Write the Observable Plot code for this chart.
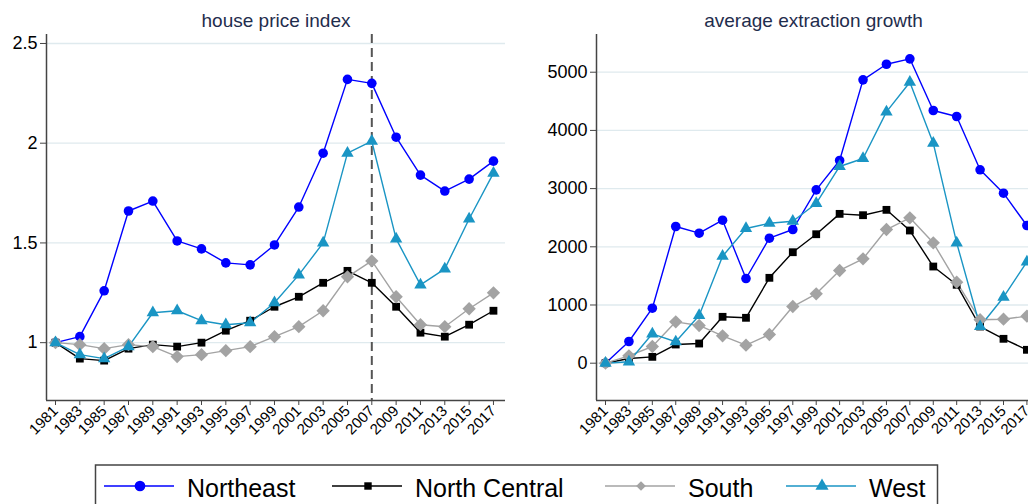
<!DOCTYPE html>
<html><head><meta charset="utf-8">
<script src="https://cdn.jsdelivr.net/npm/d3@7"></script>
<script src="https://cdn.jsdelivr.net/npm/@observablehq/plot@0.6"></script>
<style>
html,body{margin:0;padding:0;background:#fff;overflow:hidden;width:1028px;height:504px;}
#wrap{position:relative;width:1028px;height:504px;overflow:hidden;font-family:"Liberation Sans",Arial,sans-serif;}
.panel{position:absolute;top:0;}
</style></head><body><div id="wrap"></div>
<script>
const years = [1981,1983,1985,1987,1989,1991,1993,1995,1997,1999,2001,2003,2005,2007,2009,2011,2013,2015,2017];
const regions = ["Northeast","North Central","South","West"];
const colors = ["#0000ff","#000000","#a3a3a3","#1a95c4"];
const symbols = ["circle","square","diamond2","triangle"];

const hpiNortheast    = [1.00,1.03,1.26,1.66,1.71,1.51,1.47,1.40,1.39,1.49,1.68,1.95,2.32,2.30,2.03,1.84,1.76,1.82,1.91];
const hpiNorthCentral = [1.00,0.92,0.91,0.97,0.99,0.98,1.00,1.06,1.11,1.18,1.23,1.30,1.36,1.30,1.18,1.05,1.03,1.09,1.16];
const hpiSouth        = [1.00,0.99,0.97,0.99,0.98,0.93,0.94,0.96,0.98,1.03,1.08,1.16,1.33,1.41,1.23,1.09,1.08,1.17,1.25];
const hpiWest         = [1.00,0.94,0.92,0.98,1.15,1.16,1.11,1.09,1.10,1.20,1.34,1.50,1.95,2.01,1.52,1.29,1.37,1.62,1.85];

const extNortheast    = [0,373,945,2349,2234,2457,1455,2148,2297,2979,3483,4869,5137,5230,4342,4239,3323,2921,2366];
const extNorthCentral = [0,80,109,321,338,797,780,1467,1907,2216,2566,2543,2635,2280,1661,1347,630,419,230];
const extSouth        = [0,127,287,711,648,470,309,493,974,1192,1593,1794,2297,2498,2068,1392,746,756,808];
const extWest         = [0,24,505,368,820,1838,2314,2405,2440,2745,3380,3517,4319,4828,3780,2068,630,1134,1742];

const hpiTicks = [1,1.5,2,2.5];
const extTicks = [0,1000,2000,3000,4000,5000];
const crisisYear = 2007;

function rows(series){
  const out=[];
  series.forEach((vals,i)=>vals.forEach((v,j)=>out.push({year:years[j],region:regions[i],value:v})));
  return out;
}
const hpiData = rows([hpiNortheast,hpiNorthCentral,hpiSouth,hpiWest]);
const extData = rows([extNortheast,extNorthCentral,extSouth,extWest]);

const dotR = {"Northeast":4.8,"North Central":4.4,"South":6,"West":4.6};

function panel({data,title,yDomain,yTicks,xDomain,width,marginLeft,marginRight,rule,titleDx}){
  const marks = [
    Plot.gridY({ticks:yTicks, stroke:"#dfeaee", strokeOpacity:1, strokeWidth:1.3}),
    Plot.axisY({ticks:yTicks, tickFormat:d3.format("~g"), fontSize:18, tickSize:6, tickPadding:3, stroke:"#444", label:null}),
    Plot.axisX({ticks:years, tickFormat:d=>String(d), tickRotate:-45, fontSize:15, tickSize:5, tickPadding:3, stroke:"#444", label:null}),
    Plot.ruleX([xDomain[0]], {stroke:"#444", strokeWidth:1.5}),
    Plot.ruleY([yDomain[0]], {stroke:"#444", strokeWidth:1.5}),
  ];
  if (rule) marks.push(Plot.ruleX([rule], {stroke:"#555", strokeWidth:2, strokeDasharray:"9,5"}));
  regions.forEach((r,i)=>{
    const d = data.filter(x=>x.region===r);
    marks.push(Plot.line(d,{x:"year",y:"value",stroke:colors[i],strokeWidth:1.4}));
  });
  regions.forEach((r,i)=>{
    const d = data.filter(x=>x.region===r);
    marks.push(Plot.dot(d,{x:"year",y:"value",symbol:()=>symbols[i],fill:colors[i],stroke:"none",r:dotR[r]}));
  });
  marks.push(Plot.text([title],{frameAnchor:"top",dy:-8,dx:titleDx||0,lineAnchor:"bottom",fontSize:19,fill:"#1f2d4d"}));
  return Plot.plot({
    width, height:440, marginTop:34, marginBottom:40, marginLeft, marginRight,
    x:{domain:xDomain},
    y:{domain:yDomain},
    symbol:{type:"identity"},
    style:{fontFamily:"'Liberation Sans',Arial,sans-serif",color:"#000",background:"transparent",overflow:"visible"},
    marks
  });
}

const wrap = document.getElementById("wrap");
const left = panel({data:hpiData,title:"house price index",yDomain:[0.71,2.545],yTicks:hpiTicks,
  xDomain:[1980.26,2017.99],width:514,marginLeft:46,marginRight:9,rule:crisisYear});
left.classList.add("panel"); left.style.left="0px";
wrap.appendChild(left);
const right = panel({data:extData,title:"average extraction growth",yDomain:[-641,5648],yTicks:extTicks,
  xDomain:[1980.23,2017.99],width:528,marginLeft:76,marginRight:10,rule:null,titleDx:-4});
right.classList.add("panel"); right.style.left="520px";
wrap.appendChild(right);

// legend
const leg = d3.select(wrap).append("svg").attr("width",1028).attr("height",504)
  .style("position","absolute").style("left","0px").style("top","0px").style("pointer-events","none");
leg.append("rect").attr("x",95.5).attr("y",465).attr("width",842).attr("height",60)
  .attr("fill","white").attr("stroke","#444").attr("stroke-width",1.5);
const itemX = [104,332,605,786];
const symSizes = [90,55,60,75];
const d3sym = [d3.symbolCircle,d3.symbolSquare,d3.symbolDiamond2,d3.symbolTriangle];
regions.forEach((r,i)=>{
  const g = leg.append("g").attr("transform",`translate(${itemX[i]},486)`);
  g.append("line").attr("x1",0).attr("x2",70).attr("y1",0).attr("y2",0).attr("stroke",colors[i]).attr("stroke-width",1.6);
  g.append("path").attr("d",d3.symbol(d3sym[i],symSizes[i])()).attr("transform","translate(36,0)").attr("fill",colors[i]);
  g.append("text").attr("x",83).attr("y",11).attr("font-size",25).attr("font-family","'Liberation Sans',Arial,sans-serif").attr("fill","#000").text(r);
});
</script>
</body></html>
